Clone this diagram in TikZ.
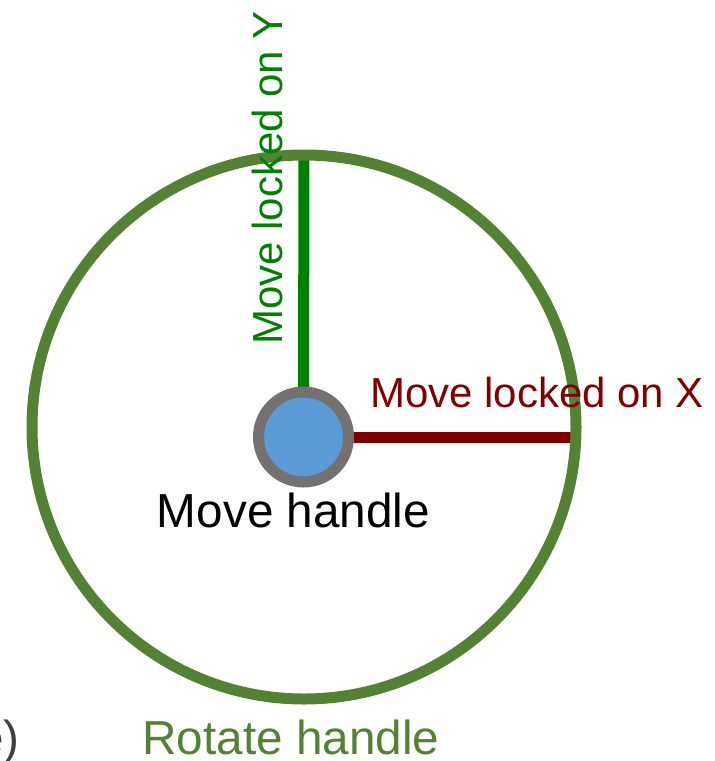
\documentclass[tikz,border=0pt]{standalone}
\usepackage{fontspec}
\setmainfont{Liberation Sans}
\usepackage{xcolor}
\usetikzlibrary{backgrounds}
\definecolor{rotgreen}{HTML}{548235}
\definecolor{ygreen}{HTML}{008000}
\definecolor{xred}{HTML}{800000}
\definecolor{hubgray}{HTML}{767171}
\definecolor{hubblue}{HTML}{5B9BD5}
\definecolor{txtgray}{HTML}{404040}
\tikzset{
  rothandle/.style={circle,draw=rotgreen,line width=11pt,inner sep=0pt,
    outer sep=0pt,minimum size=544pt},
  movehandle/.style={circle,draw=hubgray,fill=hubblue,line width=11pt,
    inner sep=0pt,outer sep=0pt,minimum size=90pt},
  lockline/.style={line width=11pt},
  biglabel/.style={font=\fontsize{47.7}{57}\selectfont,inner sep=0pt},
  axlabel/.style={font=\fontsize{42}{50}\selectfont,inner sep=0pt},
}
\begin{document}
\begin{tikzpicture}[x=1pt,y=-1pt]
\useasboundingbox (0,0) rectangle (715,761);
% handles
\node[rothandle] (rot) at (304,427) {};
\node[movehandle] (hub) at (303.5,437) {};
% lock lines, behind the handles
\begin{scope}[on background layer]
\draw[lockline,ygreen] (hub.north) -- (rot.north);
\draw[lockline,xred] (hub.east) -- (hub.east -| rot.east);
\end{scope}
% labels
\node[axlabel,text=ygreen,rotate=90,anchor=base west] (ylab) at (282,345) {Move locked on Y};
\node[axlabel,text=xred,anchor=base west] (xlab) at (370,407) {Move locked on X};
\node[biglabel,anchor=base] (hublab) at (293.5,527) {Move handle};
\node[biglabel,text=rotgreen,anchor=base] (rotlab) at (291,754) {Rotate handle};
\node[biglabel,text=txtgray,anchor=base east] (cut) at (20,754) {e)};
\end{tikzpicture}
\end{document}
